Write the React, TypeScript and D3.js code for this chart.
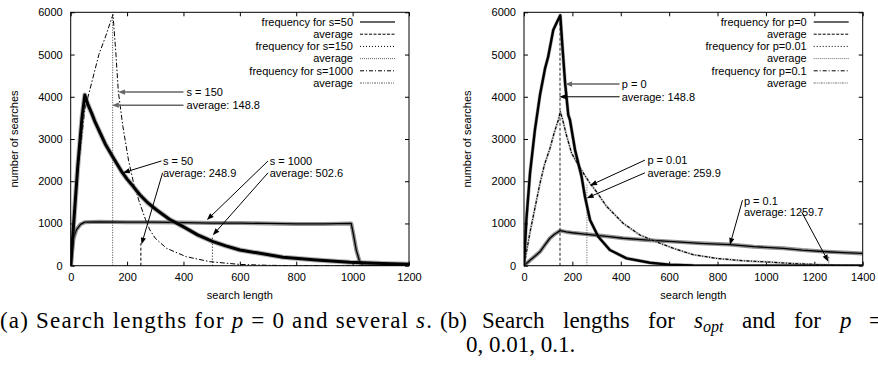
import React, { useEffect, useRef } from 'react';
import * as d3 from 'd3';

type Pt = [number, number];

// ---- panel (a): p = 0, several s ----
const s50Freq: Pt[] = [
  [0, 0], [10, 950], [25, 2350], [40, 3500], [50, 4040], [62, 3800], [75, 3600], [86, 3410],
  [104, 3150], [125, 2850], [150, 2570], [181, 2226], [200, 2050], [225, 1850], [246, 1674],
  [275, 1480], [305, 1319], [350, 1100], [399, 924], [450, 730], [505, 569], [550, 470],
  [600, 372], [671, 293], [753, 199], [872, 135], [990, 80], [1108, 55], [1200, 35],
];
const s150Freq: Pt[] = [
  [0, 0], [10, 900], [25, 2200], [50, 3700], [75, 4350], [100, 5000], [125, 5450], [150, 5950],
  [160, 5050], [169, 4120], [185, 3300], [205, 2500], [225, 1900], [245, 1480], [265, 1100],
  [281, 845], [300, 650], [340, 412], [410, 213], [494, 95], [600, 30], [700, 10], [800, 0], [1200, 0],
];
const s1000Freq: Pt[] = [
  [0, 0], [5, 350], [10, 650], [20, 850], [35, 980], [50, 1030], [100, 1040], [200, 1030],
  [300, 1030], [400, 1020], [500, 1010], [600, 1010], [700, 1000], [800, 990], [900, 990],
  [995, 1000], [1002, 770], [1013, 370], [1025, 95], [1035, 10], [1200, 0],
];
const avgA = [248.9, 148.8, 502.6];
const avgAHeight = [530, 5950, 690];
const legendA = ['frequency for s=50', 'average', 'frequency for s=150', 'average', 'frequency for s=1000', 'average'];
const xTicksA = [0, 200, 400, 600, 800, 1000, 1200];

// ---- panel (b): s_opt, p = 0, 0.01, 0.1 ----
const p0Freq: Pt[] = [
  [0, 0], [10, 1100], [25, 2200], [45, 3210], [66, 4040], [87, 4670], [100, 4950], [121, 5580],
  [135, 5750], [150, 5930], [160, 5100], [170, 4320], [183, 3570], [190, 3450], [211, 2740],
  [238, 2108], [252, 1634], [273, 1082], [307, 687], [355, 372], [424, 175], [521, 71],
  [600, 25], [700, 5], [800, 0], [1400, 0],
];
const p001Freq: Pt[] = [
  [0, 0], [25, 800], [50, 1500], [66, 1950], [85, 2400], [107, 2770], [125, 3150], [142, 3450],
  [150, 3650], [160, 3450], [175, 3100], [197, 2660], [225, 2380], [250, 2150], [273, 1950],
  [300, 1750], [342, 1400], [410, 1004], [479, 727], [550, 560], [617, 412], [700, 260],
  [800, 170], [900, 120], [1000, 90], [1100, 55], [1200, 30], [1300, 10], [1400, 5],
];
const p01Freq: Pt[] = [
  [0, 0], [25, 130], [50, 250], [66, 330], [85, 480], [107, 650], [125, 740], [149, 830],
  [175, 800], [200, 780], [250, 750], [300, 720], [350, 690], [410, 650], [500, 610],
  [617, 570], [728, 530], [851, 500], [950, 450], [1072, 412], [1150, 370], [1251, 330],
  [1320, 310], [1400, 290],
];
const avgB = [148.8, 259.9, 1259.7];
const avgBHeight = [5900, 1950, 230];
const legendB = ['frequency for p=0', 'average', 'frequency for p=0.01', 'average', 'frequency for p=0.1', 'average'];
const xTicksB = [0, 200, 400, 600, 800, 1000, 1200, 1400];

const yTicks = [0, 1000, 2000, 3000, 4000, 5000, 6000];

const FONT = '"Liberation Sans", Arial, Helvetica, sans-serif';
const SERIF = '"Liberation Serif", "Times New Roman", serif';

type LineStyle = { dash?: string; width: number; color: string; halo?: number; haloColor?: string };
type Note = { label: string; tx: number; ty: number; from: Pt; to: Pt; color?: string; width?: number };

const legendStyles: LineStyle[] = [
  { width: 2, color: '#666' },
  { dash: '3,1.5', width: 1, color: '#000' },
  { dash: '1,2', width: 1, color: '#000' },
  { dash: '1,1', width: 1, color: '#666' },
  { dash: '4,2,1,2', width: 1, color: '#000' },
  { dash: '2,1,1,1,1,1', width: 1, color: '#666' },
];

const notesA: Note[] = [
  { label: 's = 150', tx: 411, ty: 4110, from: [400, 4110], to: [168, 4110], color: '#666', width: 1.5 },
  { label: 'average: 148.8', tx: 411, ty: 3800, from: [400, 3800], to: [146, 3800], color: '#666', width: 1.5 },
  { label: 's = 50', tx: 327, ty: 2480, from: [322, 2480], to: [185, 2200] },
  { label: 'average: 248.9', tx: 327, ty: 2200, from: [326, 2200], to: [251, 500] },
  { label: 's = 1000', tx: 706, ty: 2480, from: [700, 2480], to: [483, 1080] },
  { label: 'average: 502.6', tx: 706, ty: 2200, from: [700, 2200], to: [504, 720] },
];
const notesB: Note[] = [
  { label: 'p = 0', tx: 404, ty: 4300, from: [395, 4300], to: [170, 4300], color: '#666', width: 1.5 },
  { label: 'average: 148.8', tx: 404, ty: 4000, from: [395, 4000], to: [145, 4000] },
  { label: 'p = 0.01', tx: 510, ty: 2500, from: [500, 2500], to: [273, 1900] },
  { label: 'average: 259.9', tx: 510, ty: 2200, from: [500, 2200], to: [259, 1600] },
  { label: 'p = 0.1', tx: 909, ty: 1540, from: [903, 1550], to: [851, 490] },
  { label: 'average: 1259.7', tx: 909, ty: 1270, from: [1148, 1270], to: [1258, 95] },
];

type PanelSpec = {
  x0: number; x1: number; xMax: number; xTicks: number[];
  series: { data: Pt[]; style: LineStyle }[];
  averages: { x: number; h: number; style: LineStyle }[];
  legend: string[];
  notes: Note[];
  id: string;
};

const Y0 = 12.3;
const Y1 = 265.7;

function drawPanel(root: SVGGElement, spec: PanelSpec) {
  const g = d3.select(root);
  g.selectAll('*').remove();
  const x = d3.scaleLinear().domain([0, spec.xMax]).range([spec.x0, spec.x1]);
  const y = d3.scaleLinear().domain([0, 6000]).range([Y1, Y0]);
  const fmt = d3.format('d');

  g.append('clipPath').attr('id', `clip-${spec.id}`)
    .append('rect').attr('x', spec.x0).attr('y', Y0).attr('width', spec.x1 - spec.x0).attr('height', Y1 - Y0);

  const axisText = (sel: any) => sel.selectAll('text').attr('font-family', FONT).attr('font-size', 11).attr('fill', '#000');
  const noDomain = (sel: any) => sel.select('.domain').remove();

  g.append('g').attr('transform', `translate(0,${Y1})`)
    .call(d3.axisBottom(x).tickValues(spec.xTicks).tickFormat(fmt as any).tickSizeInner(-4).tickSizeOuter(0).tickPadding(8) as any)
    .call(axisText).call(noDomain);
  g.append('g').attr('transform', `translate(0,${Y0})`)
    .call(d3.axisTop(x).tickValues(spec.xTicks).tickSizeInner(-4).tickSizeOuter(0).tickFormat(() => '') as any)
    .call(noDomain);
  g.append('g').attr('transform', `translate(${spec.x0},0)`)
    .call(d3.axisLeft(y).tickValues(yTicks).tickFormat(fmt as any).tickSizeInner(-4).tickSizeOuter(0).tickPadding(8) as any)
    .call(axisText).call(noDomain);
  g.append('g').attr('transform', `translate(${spec.x1},0)`)
    .call(d3.axisRight(y).tickValues(yTicks).tickSizeInner(-4).tickSizeOuter(0).tickFormat(() => '') as any)
    .call(noDomain);
  g.selectAll('.tick line').attr('stroke', '#000');

  const plot = g.append('g').attr('clip-path', `url(#clip-${spec.id})`);
  const line = d3.line<Pt>().x((d) => x(d[0])).y((d) => y(d[1]));

  // averages (vertical impulses)
  spec.averages.forEach((a) => {
    plot.append('line')
      .attr('x1', x(a.x)).attr('x2', x(a.x)).attr('y1', y(0)).attr('y2', y(a.h))
      .attr('stroke', a.style.color).attr('stroke-width', a.style.width)
      .attr('stroke-dasharray', a.style.dash ?? null);
  });

  spec.series.forEach((s) => {
    if (s.style.halo) {
      plot.append('path').attr('d', line(s.data)!).attr('fill', 'none')
        .attr('stroke', s.style.haloColor ?? '#999').attr('stroke-width', s.style.halo)
        .attr('stroke-linejoin', 'round').attr('opacity', 0.5);
    }
    plot.append('path').attr('d', line(s.data)!).attr('fill', 'none')
      .attr('stroke', s.style.color).attr('stroke-width', s.style.width)
      .attr('stroke-linejoin', 'round')
      .attr('stroke-dasharray', s.style.dash ?? null);
  });

  // frame
  g.append('rect').attr('x', spec.x0).attr('y', Y0).attr('width', spec.x1 - spec.x0).attr('height', Y1 - Y0)
    .attr('fill', 'none').attr('stroke', '#000').attr('stroke-width', 1);

  // legend
  const textRight = spec.x1 - 56;
  spec.legend.forEach((label, i) => {
    const ly = 22 + i * 12.2;
    const st = legendStyles[i];
    g.append('text').attr('x', textRight).attr('y', ly).attr('dy', '0.35em')
      .attr('text-anchor', 'end').attr('font-family', FONT).attr('font-size', 11).text(label);
    g.append('line').attr('x1', spec.x1 - 49).attr('x2', spec.x1 - 14).attr('y1', ly).attr('y2', ly)
      .attr('stroke', st.color).attr('stroke-width', st.width).attr('stroke-dasharray', st.dash ?? null);
  });

  // annotations with arrows
  spec.notes.forEach((n) => {
    const color = n.color ?? '#000';
    const w = n.width ?? 1;
    const [fx, fy] = [x(n.from[0]), y(n.from[1])];
    const [tx, ty] = [x(n.to[0]), y(n.to[1])];
    const ang = Math.atan2(ty - fy, tx - fx);
    const hl = 7;
    const hw = 2.6;
    const bx = tx - hl * Math.cos(ang);
    const by = ty - hl * Math.sin(ang);
    g.append('line').attr('x1', fx).attr('y1', fy).attr('x2', bx).attr('y2', by)
      .attr('stroke', color).attr('stroke-width', w);
    g.append('path')
      .attr('d', `M${tx},${ty}L${bx + hw * Math.sin(ang)},${by - hw * Math.cos(ang)}L${bx - hw * Math.sin(ang)},${by + hw * Math.cos(ang)}Z`)
      .attr('fill', color);
    g.append('text').attr('x', x(n.tx)).attr('y', y(n.ty)).attr('dy', '0.35em')
      .attr('font-family', FONT).attr('font-size', 11).text(n.label);
  });

  // axis titles
  const midY = (Y0 + Y1) / 2;
  g.append('text').attr('transform', `translate(${spec.x0 - 57},${midY}) rotate(-90)`)
    .attr('text-anchor', 'middle').attr('dy', '0.35em')
    .attr('font-family', FONT).attr('font-size', 11).text('number of searches');
  g.append('text').attr('x', (spec.x0 + spec.x1) / 2).attr('y', 295).attr('dy', '0.35em')
    .attr('text-anchor', 'middle').attr('font-family', FONT).attr('font-size', 11).text('search length');
}

const panelA: PanelSpec = {
  id: 'a', x0: 70.7, x1: 409, xMax: 1200, xTicks: xTicksA,
  series: [
    { data: s1000Freq, style: { width: 1.3, color: '#000', halo: 4, haloColor: '#222' } },
    { data: s150Freq, style: { dash: '5,2,1.5,2', width: 1, color: '#000' } },
    { data: s50Freq, style: { width: 3, color: '#000', halo: 5, haloColor: '#666' } },
  ],
  averages: [
    { x: avgA[0], h: avgAHeight[0], style: { dash: '3,2', width: 1, color: '#000' } },
    { x: avgA[1], h: avgAHeight[1], style: { dash: '1,1.5', width: 1, color: '#444' } },
    { x: avgA[2], h: avgAHeight[2], style: { dash: '1,2', width: 1, color: '#000' } },
  ],
  legend: legendA,
  notes: notesA,
};

const panelB: PanelSpec = {
  id: 'b', x0: 524, x1: 862.7, xMax: 1400, xTicks: xTicksB,
  series: [
    { data: p01Freq, style: { width: 1.3, color: '#000', halo: 4, haloColor: '#222' } },
    { data: p001Freq, style: { dash: '3,1.5,1,1.5', width: 1.2, color: '#000', halo: 2.2, haloColor: '#888' } },
    { data: p0Freq, style: { width: 2.4, color: '#000', halo: 3.5, haloColor: '#555' } },
  ],
  averages: [
    { x: avgB[0], h: avgBHeight[0], style: { dash: '3,2', width: 1.3, color: '#555' } },
    { x: avgB[1], h: avgBHeight[1], style: { dash: '1,1.5', width: 1, color: '#555' } },
    { x: avgB[2], h: avgBHeight[2], style: { dash: '2,1,1,1,1,1', width: 1, color: '#555' } },
  ],
  legend: legendB,
  notes: notesB,
};

export default function App() {
  const aRef = useRef<SVGGElement>(null);
  const bRef = useRef<SVGGElement>(null);

  useEffect(() => {
    if (aRef.current) drawPanel(aRef.current, panelA);
    if (bRef.current) drawPanel(bRef.current, panelB);
  }, []);

  const capB: [string, number][] = [
    ['(b)', 440], ['Search', 482], ['lengths', 563], ['for', 648], ['and', 742], ['for', 794],
  ];

  return (
    <svg width={878} height={365} style={{ position: 'absolute', left: 0, top: 0, background: '#fff' }}>
      <rect width={878} height={365} fill="#fff" />
      <g ref={aRef} />
      <g ref={bRef} />
      <g fontFamily={SERIF} fontSize={23} fill="#000">
        <text x={0} y={328} textLength={432} lengthAdjust="spacing">
          (a) Search lengths for <tspan fontStyle="italic">p</tspan> = 0 and several <tspan fontStyle="italic">s</tspan>.
        </text>
        {capB.map(([w, px], i) => (
          <text key={i} x={px} y={328}>{w}</text>
        ))}
        <text x={694} y={328}>
          <tspan fontStyle="italic">s</tspan>
          <tspan fontStyle="italic" fontSize={16} dy={4}>opt</tspan>
        </text>
        <text x={840} y={328} fontStyle="italic">p</text>
        <text x={869} y={328}>=</text>
        <text x={466} y={352}>0, 0.01, 0.1.</text>
      </g>
    </svg>
  );
}
